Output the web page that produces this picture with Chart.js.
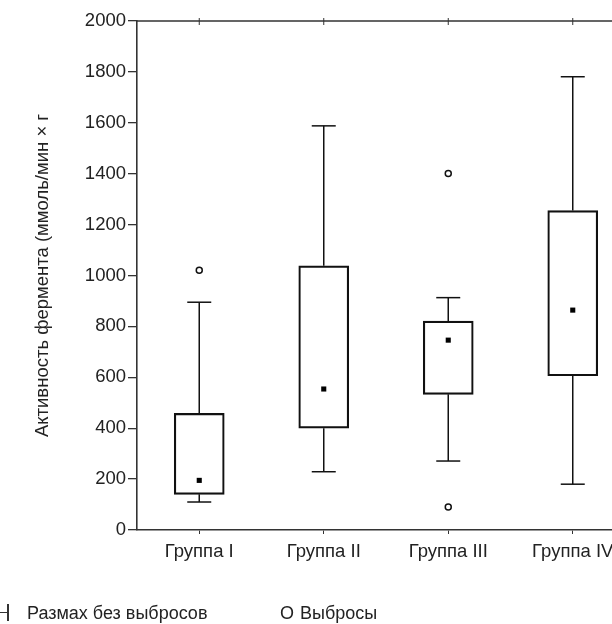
<!DOCTYPE html>
<html>
<head>
<meta charset="utf-8">
<script src="https://cdn.jsdelivr.net/npm/chart.js@4/dist/chart.umd.min.js"></script>
<style>
  html, body { margin: 0; padding: 0; background: #fff; overflow: hidden; }
  #wrap { position: relative; width: 612px; height: 624px; overflow: hidden; }
  #holder { position: absolute; left: 0; top: 0; width: 660px; height: 624px; }
  .leg { position: absolute; font-family: "Liberation Sans", Arial, sans-serif; font-size: 18px; color: #222; white-space: nowrap; line-height: 20px; }
  .sym { position: absolute; }
</style>
</head>
<body>
<div id="wrap">
  <div id="holder"><canvas id="c" width="660" height="624"></canvas></div>
  <div class="sym" style="left:7px; top:604px; width:1.5px; height:17px; background:#333;"></div>
  <div class="sym" style="left:0px; top:612px; width:8px; height:1.3px; background:#333;"></div>
  <div class="leg" style="left:27px; top:603px;">Размах без выбросов</div>
  <div class="leg" style="left:280px; top:603px;">O</div>
  <div class="leg" style="left:300px; top:603px;">Выбросы</div>
</div>
<script>
const categories = ['Группа I', 'Группа II', 'Группа III', 'Группа IV'];
const q1Values = [140, 400, 533, 606];
const q3Values = [458, 1038, 821, 1255];
const whiskerLow = [110, 229, 271, 180];
const whiskerHigh = [895, 1588, 913, 1781];
const medianValues = [195, 554, 746, 864];
const outlierGroups = ['Группа I', 'Группа III', 'Группа III'];
const outlierValues = [1021, 1401, 90];
const yTicks = [0, 200, 400, 600, 800, 1000, 1200, 1400, 1600, 1800, 2000];
const yTitle = 'Активность фермента (ммоль/мин × г';

const FONT = '"Liberation Sans", Arial, sans-serif';
const INK = '#222';
const FS = 18.5;

const whiskerPlugin = {
  id: 'whiskers',
  beforeDatasetsDraw(chart) {
    const {ctx, scales: {x, y}} = chart;
    ctx.save();
    ctx.strokeStyle = '#111';
    ctx.lineWidth = 1.5;
    categories.forEach((c, i) => {
      const px = x.getPixelForValue(i);
      const capHalf = 12;
      const segs = [[q3Values[i], whiskerHigh[i]], [q1Values[i], whiskerLow[i]]];
      segs.forEach(([a, b]) => {
        ctx.beginPath();
        ctx.moveTo(px, y.getPixelForValue(a));
        ctx.lineTo(px, y.getPixelForValue(b));
        ctx.stroke();
        ctx.beginPath();
        ctx.moveTo(px - capHalf, y.getPixelForValue(b));
        ctx.lineTo(px + capHalf, y.getPixelForValue(b));
        ctx.stroke();
      });
    });
    ctx.restore();
  },
  afterDraw(chart) {
    const {ctx, chartArea: a, scales: {x}} = chart;
    ctx.save();
    ctx.strokeStyle = '#333';
    ctx.lineWidth = 1.6;
    ctx.beginPath();
    ctx.moveTo(a.left, a.top);
    ctx.lineTo(a.right, a.top);
    ctx.lineTo(a.right, a.bottom);
    ctx.stroke();
    ctx.lineWidth = 1;
    categories.forEach((c, i) => {
      const px = x.getPixelForValue(i);
      ctx.beginPath();
      ctx.moveTo(px, a.top - 3);
      ctx.lineTo(px, a.top + 4);
      ctx.stroke();
    });
    ctx.restore();
  }
};

new Chart(document.getElementById('c'), {
  type: 'bar',
  data: {
    labels: categories,
    datasets: [
      {
        label: 'box',
        data: categories.map((c, i) => [q1Values[i], q3Values[i]]),
        backgroundColor: 'rgba(255,255,255,0)',
        borderColor: '#111',
        borderWidth: 1.5,
        borderSkipped: false,
        barThickness: 50,
        order: 3
      },
      {
        type: 'line',
        label: 'median',
        data: medianValues,
        showLine: false,
        pointStyle: 'rect',
        pointRadius: 3.6,
        pointBackgroundColor: '#000',
        pointBorderWidth: 0,
        order: 1
      },
      {
        type: 'line',
        label: 'Выбросы',
        data: outlierGroups.map((g, i) => ({x: g, y: outlierValues[i]})),
        showLine: false,
        pointStyle: 'circle',
        pointRadius: 3,
        pointBackgroundColor: '#fff',
        pointBorderColor: '#111',
        pointBorderWidth: 1.5,
        order: 1
      }
    ]
  },
  options: {
    responsive: false,
    animation: false,
    layout: { padding: { left: 0, right: 25, top: 21, bottom: 0 } },
    plugins: { legend: { display: false }, tooltip: { enabled: false } },
    scales: {
      x: {
        type: 'category',
        offset: true,
        grid: { display: true, offset: false, drawOnChartArea: false, tickLength: 4, color: '#333', lineWidth: 1 },
        border: { display: true, color: '#333', width: 1.6 },
        ticks: { color: INK, font: { family: FONT, size: FS }, padding: 7 },
        afterFit(s) { s.height = 94; }
      },
      y: {
        min: 0,
        max: 2000,
        afterBuildTicks(s) { s.ticks = yTicks.map(v => ({value: v})); },
        grid: { display: true, drawOnChartArea: false, tickLength: 9, color: '#333', lineWidth: 1.3 },
        border: { display: true, color: '#333', width: 1.6 },
        ticks: { color: INK, font: { family: FONT, size: FS }, padding: 2, callback: v => String(v) },
        title: { display: true, text: yTitle, color: INK, font: { family: FONT, size: FS }, padding: { top: 32, bottom: 0 } },
        afterFit(s) { s.width = 137; }
      }
    }
  },
  plugins: [whiskerPlugin]
});
</script>
</body>
</html>
